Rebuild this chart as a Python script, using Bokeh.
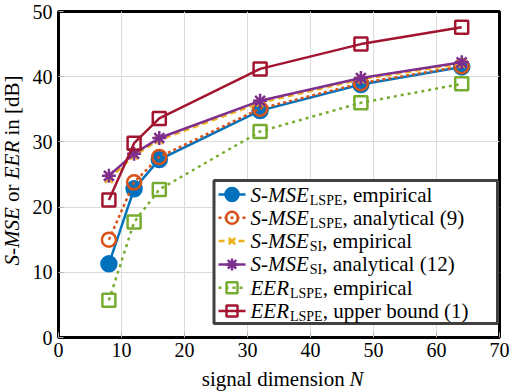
import math
from bokeh.plotting import figure
from bokeh.layouts import row, column
from bokeh.models import Label, Range1d, FixedTicker
from bokeh.embed import file_html
from bokeh.resources import INLINE

# ---------------- data ----------------
N = [8, 12, 16, 32, 48, 64]
smse_lspe_emp = [11.3, 22.8, 27.3, 34.8, 38.8, 41.5]
smse_lspe_ana = [15.0, 23.8, 27.7, 35.1, 39.0, 41.6]
smse_si_emp = [24.3, 27.9, 30.3, 36.0, 39.6, 42.0]
smse_si_ana = [24.8, 28.2, 30.6, 36.3, 39.8, 42.2]
eer_lspe_emp = [5.7, 17.7, 22.7, 31.6, 36.0, 38.9]
eer_lspe_ub = [21.1, 29.8, 33.6, 41.2, 45.0, 47.6]

x_ticks = [0, 10, 20, 30, 40, 50, 60, 70]
y_ticks = [0, 10, 20, 30, 40, 50]

legend_main = ["S-MSE", "S-MSE", "S-MSE", "S-MSE", "EER", "EER"]
legend_sub = ["LSPE", "LSPE", "SI", "SI", "LSPE", "LSPE"]
legend_rest = [", empirical", ", analytical (9)", ", empirical",
               ", analytical (12)", ", empirical", ", upper bound (1)"]

xlabel_text = "signal dimension"
xlabel_var = "N"
ylabel_parts = [("S-MSE", "italic"), ("or", "normal"), ("EER", "italic"), ("in [dB]", "normal")]

series = [smse_lspe_emp, smse_lspe_ana, smse_si_emp, smse_si_ana, eer_lspe_emp, eer_lspe_ub]

# ---------------- styles ----------------
styles = [
    dict(color="#0072BD", dash="solid", marker="circle", size=15, fill="#0072BD"),
    dict(color="#D95319", dash="3 3", marker="circle", size=14, fill=None),
    dict(color="#EDB120", dash="6 4", marker="x", size=11, fill=None),
    dict(color="#7E2F8E", dash="solid", marker="asterisk", size=14, fill=None),
    dict(color="#77AC30", dash="3 4", marker="square", size=13, fill=None),
    dict(color="#A2142F", dash="solid", marker="square", size=13, fill=None),
]

FONT = "Liberation Serif"
TICKFS = 20
FS = 21
SUBFS = 14

PAGE_W, PAGE_H = 510, 392
YL_W = 24                      # width of the y-label strip
MAIN_W = PAGE_W - YL_W
MAIN_H = 367
XL_H = PAGE_H - MAIN_H

FRAME_L, FRAME_R, FRAME_T, FRAME_B = 58, 499, 11, 337   # page px
X0, X1, Y0, Y1 = 0, 70, 0, 50
SX = (FRAME_R - FRAME_L) / (X1 - X0)
SY = (FRAME_B - FRAME_T) / (Y1 - Y0)


def px2x(px):
    return X0 + (px - FRAME_L) / SX


def px2y(py):
    return Y0 + (FRAME_B - py) / SY


REG = {' ': 250, ',': 250, '(': 333, ')': 333, '[': 333, ']': 333, '-': 333,
       'a': 444, 'b': 500, 'c': 444, 'd': 500, 'e': 444, 'g': 500, 'i': 278,
       'l': 278, 'm': 778, 'n': 500, 'o': 500, 'p': 500, 'r': 333, 's': 389,
       't': 278, 'u': 500, 'y': 500, 'B': 667, 'E': 611, 'I': 333, 'L': 611,
       'P': 556, 'S': 556, 'N': 722}
ITA = {' ': 250, 'S': 500, '-': 333, 'M': 833, 'E': 611, 'R': 611, 'N': 667}


def tw(s, style, size):
    table = ITA if style == "italic" else REG
    return sum(table.get(c, 500) for c in s) * size / 1000.0


# ---------------- main plot ----------------
p = figure(width=MAIN_W, height=MAIN_H, x_range=Range1d(X0, X1), y_range=Range1d(Y0, Y1),
           output_backend="svg", toolbar_location=None,
           min_border_left=FRAME_L - YL_W, min_border_right=PAGE_W - FRAME_R,
           min_border_top=FRAME_T, min_border_bottom=MAIN_H - FRAME_B)
p.background_fill_color = "white"
p.border_fill_color = "white"
p.outline_line_color = "black"
p.outline_line_width = 3

p.xaxis.ticker = FixedTicker(ticks=x_ticks)
p.yaxis.ticker = FixedTicker(ticks=y_ticks)
p.xgrid.ticker = FixedTicker(ticks=x_ticks)
p.ygrid.ticker = FixedTicker(ticks=y_ticks)
for g in (p.xgrid, p.ygrid):
    g.grid_line_color = "#dcdcdc"
    g.grid_line_width = 1
for ax in (p.xaxis, p.yaxis):
    ax.axis_line_color = None
    ax.major_tick_in = 5
    ax.major_tick_out = 0
    ax.major_tick_line_color = "#b0b0b0"
    ax.minor_tick_line_color = None
    ax.major_label_text_font = FONT
    ax.major_label_text_font_size = f"{TICKFS}px"
    ax.major_label_text_color = "black"
p.xaxis.major_label_standoff = 5
p.yaxis.major_label_standoff = 6

for ys, st in zip(series, styles):
    p.line(N, ys, line_color=st["color"], line_width=2.5, line_dash=st["dash"])
    p.scatter(N, ys, marker=st["marker"], size=st["size"], line_color=st["color"],
              line_width=2.5, fill_color=st["fill"])

# legend box
p.quad(left=px2x(213.5), right=px2x(497), top=px2y(180), bottom=px2y(323),
       fill_color="white", line_color="#404040", line_width=3)

ROW0, ROWH = 194, 23.3
for i, st in enumerate(styles):
    cy = ROW0 + i * ROWH
    p.line([px2x(218), px2x(245)], [px2y(cy), px2y(cy)], line_color=st["color"],
           line_width=2.5, line_dash=st["dash"])
    p.scatter([px2x(231.5)], [px2y(cy)], marker=st["marker"], size=st["size"] - 2,
              line_color=st["color"], line_width=2.5, fill_color=st["fill"])
    tx = 250
    p.add_layout(Label(x=px2x(tx), y=px2y(cy), text=legend_main[i], text_font=FONT,
                       text_font_size=f"{FS}px", text_font_style="italic",
                       text_baseline="middle", text_align="left", text_color="black"))
    tx += tw(legend_main[i], "italic", FS) + 1
    p.add_layout(Label(x=px2x(tx), y=px2y(cy + 5.5), text=legend_sub[i], text_font=FONT,
                       text_font_size=f"{SUBFS}px",
                       text_baseline="middle", text_align="left", text_color="black"))
    tx += tw(legend_sub[i], "normal", SUBFS)
    p.add_layout(Label(x=px2x(tx), y=px2y(cy), text=legend_rest[i], text_font=FONT,
                       text_font_size=f"{FS}px",
                       text_baseline="middle", text_align="left", text_color="black"))


def blank_fig(w, h):
    f = figure(width=w, height=h, x_range=Range1d(0, w), y_range=Range1d(0, h),
               output_backend="svg", toolbar_location=None, min_border=0,
               x_axis_location=None, y_axis_location=None)
    f.outline_line_color = None
    f.background_fill_color = "white"
    f.border_fill_color = "white"
    f.grid.visible = False
    return f


# ---------------- x label strip ----------------
fx = blank_fig(MAIN_W, XL_H)
space = tw(" ", "normal", FS)
x_end = 277.5 + (tw(xlabel_text, "normal", FS) + space + tw(xlabel_var, "italic", FS)) / 2
XMID = 378.5
fx.add_layout(Label(x=x_end - tw(xlabel_var, "italic", FS) - space - YL_W, y=PAGE_H - XMID,
                    text=xlabel_text, text_font=FONT, text_font_size=f"{FS}px",
                    text_baseline="middle", text_align="right", text_color="black"))
fx.add_layout(Label(x=x_end - tw(xlabel_var, "italic", FS) - YL_W, y=PAGE_H - XMID,
                    text=xlabel_var, text_font=FONT, text_font_size=f"{FS}px",
                    text_font_style="italic",
                    text_baseline="middle", text_align="left", text_color="black"))

# ---------------- y label strip ----------------
fy = blank_fig(YL_W, PAGE_H)
yl_total = sum(tw(t, s, FS) for t, s in ylabel_parts) + space * (len(ylabel_parts) - 1)
ypos = 170 + yl_total / 2
for t, s in ylabel_parts:
    fy.add_layout(Label(x=11.5, y=PAGE_H - ypos, text=t, text_font=FONT,
                        text_font_size=f"{FS}px", text_font_style=s, angle=math.pi / 2,
                        text_baseline="middle", text_align="left", text_color="black"))
    ypos -= tw(t, s, FS) + space

layout = row(fy, column(p, fx))
open("out.html", "w").write(file_html(layout, INLINE))
